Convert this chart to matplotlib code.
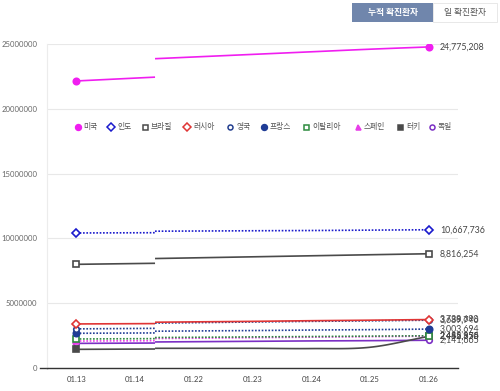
import numpy as np
import matplotlib
matplotlib.use('Agg')
import matplotlib.pyplot as plt
from matplotlib.patches import Rectangle

plt.rcParams['font.family'] = ['Noto Sans CJK KR', 'DejaVu Sans']

# data (confirmed cases, millions)
dates = ['01.13', '01.14', '01.22', '01.23', '01.24', '01.25', '01.26']
countries = ['미국', '인도', '브라질', '러시아', '영국', '프랑스', '이탈리아', '스페인', '터키', '독일']
us = [22.15, 22.37, 24.0, 24.2, 24.4, 24.6, 24.775208]
india = [10.42, 10.435, 10.57, 10.59, 10.61, 10.64, 10.667736]
brazil = [8.0, 8.06, 8.5, 8.58, 8.66, 8.74, 8.816254]
russia = [3.40, 3.42, 3.56, 3.60, 3.65, 3.69, 3.738690]
uk = [3.02, 3.05, 3.50, 3.55, 3.60, 3.64, 3.689746]
france = [2.68, 2.70, 2.86, 2.89, 2.93, 2.96, 3.003694]
italy = [2.24, 2.26, 2.37, 2.40, 2.43, 2.46, 2.485956]
spain = [2.08, 2.10, 2.30, 2.34, 2.38, 2.42, 2.456675]
turkey = [1.44, 1.46, 1.52, 1.52, 1.50, 1.60, 2.442350]
germany = [1.90, 1.92, 2.03, 2.06, 2.09, 2.11, 2.141665]
end_labels = ['24,775,208', '10,667,736', '8,816,254', '3,738,690', '3,689,746',
              '3,003,694', '2,485,956', '2,456,675', '2,442,350', '2,141,665']

series = [us, india, brazil, russia, uk, france, italy, spain, turkey, germany]
# colour, marker, filled, linestyle
styles = [
    ('#f01ef0', 'o', True, '-'),
    ('#1a1acc', 'D', False, (0, (1, 1))),
    ('#4a4a4a', 's', False, '-'),
    ('#e03535', 'D', False, '-'),
    ('#233f8f', 'o', False, (0, (1, 1))),
    ('#1f3c96', 'o', True, (0, (1, 1))),
    ('#2e8b3e', 's', False, (0, (1, 1))),
    ('#e83ee8', '^', True, (0, (1, 1))),
    ('#4a4a4a', 's', True, '-'),
    ('#7b2fc4', 'o', False, '-'),
]
brk = 1.34  # where the line breaks between 01.14 and 01.22


def smooth(xs, ys, n=20):
    # Catmull-Rom spline through the points (for drawing only)
    xs = np.asarray(xs, float)
    ys = np.asarray(ys, float)
    m = np.gradient(ys, xs)
    out_x, out_y = [], []
    for i in range(len(xs) - 1):
        t = np.linspace(0, 1, n)
        h = xs[i + 1] - xs[i]
        h00 = 2 * t**3 - 3 * t**2 + 1
        h10 = t**3 - 2 * t**2 + t
        h01 = -2 * t**3 + 3 * t**2
        h11 = t**3 - t**2
        out_x.append(xs[i] + t * h)
        out_y.append(h00 * ys[i] + h10 * h * m[i] + h01 * ys[i + 1] + h11 * h * m[i + 1])
    return np.concatenate(out_x), np.concatenate(out_y)


fig = plt.figure(figsize=(5, 3.91), dpi=100)
ax = fig.add_axes([0.094, 0.0588, 0.822, 0.8286])

x = np.arange(len(dates))
for vals, (col, mk, filled, ls) in zip(series[::-1], styles[::-1]):
    v = np.array(vals) * 1e6
    # first segment 01.13 -> break
    y1 = v[0] + (v[1] - v[0]) * brk
    ax.plot([0, brk], [v[0], y1], color=col, lw=1.2, ls=ls, solid_capstyle='butt')
    # second segment break -> 01.26
    y2 = v[2] - (v[3] - v[2]) * (2 - brk)
    sx, sy = smooth(np.r_[brk, x[2:]], np.r_[y2, v[2:]])
    ax.plot(sx, sy, color=col, lw=1.2, ls=ls, solid_capstyle='butt')
    ms = 4.6 if (mk == 'o' and filled) else 4.0
    ax.plot([0, 6], [v[0], v[-1]], ls='none', marker=mk, ms=ms, mew=1.2,
            mec=col, mfc=col if filled else 'white', zorder=5)

for lab, vals in zip(end_labels, series):
    ax.annotate(lab, (6, vals[-1] * 1e6), xytext=(8, 0), textcoords='offset points',
                va='center', ha='left', fontsize=6.3, color='#444444',
                annotation_clip=False, family=['Lato', 'DejaVu Sans'])

ax.set_xlim(-0.5, 6.5)
ax.set_ylim(0, 25e6)
ax.set_xticks(x)
ax.set_xticklabels(dates, fontsize=5.6, color='#444444', family=['Lato', 'DejaVu Sans'])
ax.set_yticks(np.arange(0, 25e6 + 1, 5e6))
ax.set_yticklabels([str(int(t)) for t in np.arange(0, 25e6 + 1, 5e6)], fontsize=5.6,
                   color='#666666', family=['Lato', 'DejaVu Sans'])
ax.tick_params(length=0, pad=7)
ax.tick_params(axis='x', pad=6)
ax.grid(axis='y', color='#e8e8e8', lw=0.8)
ax.set_axisbelow(True)
for s in ['top', 'right']:
    ax.spines[s].set_visible(False)
ax.spines['left'].set_color('#ececec')
ax.spines['bottom'].set_color('#333333')
ax.spines['bottom'].set_linewidth(1.0)
ax.plot([-0.62, -0.5], [0, 0], color='#333333', lw=1.0, clip_on=False)

# legend row
leg_x = [77.7, 111, 145, 187, 230, 264, 306, 358, 400, 432]
for px, name, (col, mk, filled, ls) in zip(leg_x, countries, styles):
    fx = px / 500
    fy = 1 - 126.5 / 391
    fig.lines.append(plt.Line2D([fx], [fy], transform=fig.transFigure, marker=mk,
                                ms=4.2 if (mk == 'o' and filled) else 3.6, mew=1.1, mec=col,
                                mfc=col if filled else 'white', ls='none'))
    fig.text(fx + 6 / 500, fy, name, fontsize=5.6, color='#555555', va='center', ha='left')

# buttons at top right
fig.patches.append(Rectangle((352 / 500, 1 - 22 / 391), 81 / 500, 19 / 391,
                             transform=fig.transFigure, color='#7086ac', lw=0))
fig.text(392.5 / 500, 1 - 12.5 / 391, '누적 확진환자', color='white', fontsize=6.3,
         weight='bold', ha='center', va='center')
fig.patches.append(Rectangle((433 / 500, 1 - 22 / 391), 64 / 500, 19 / 391,
                             transform=fig.transFigure, facecolor='white',
                             edgecolor='#e4e4e4', lw=0.6))
fig.text(465 / 500, 1 - 12.5 / 391, '일 확진환자', color='#555555', fontsize=6.3,
         ha='center', va='center')

fig.savefig('out.png', dpi=100)
